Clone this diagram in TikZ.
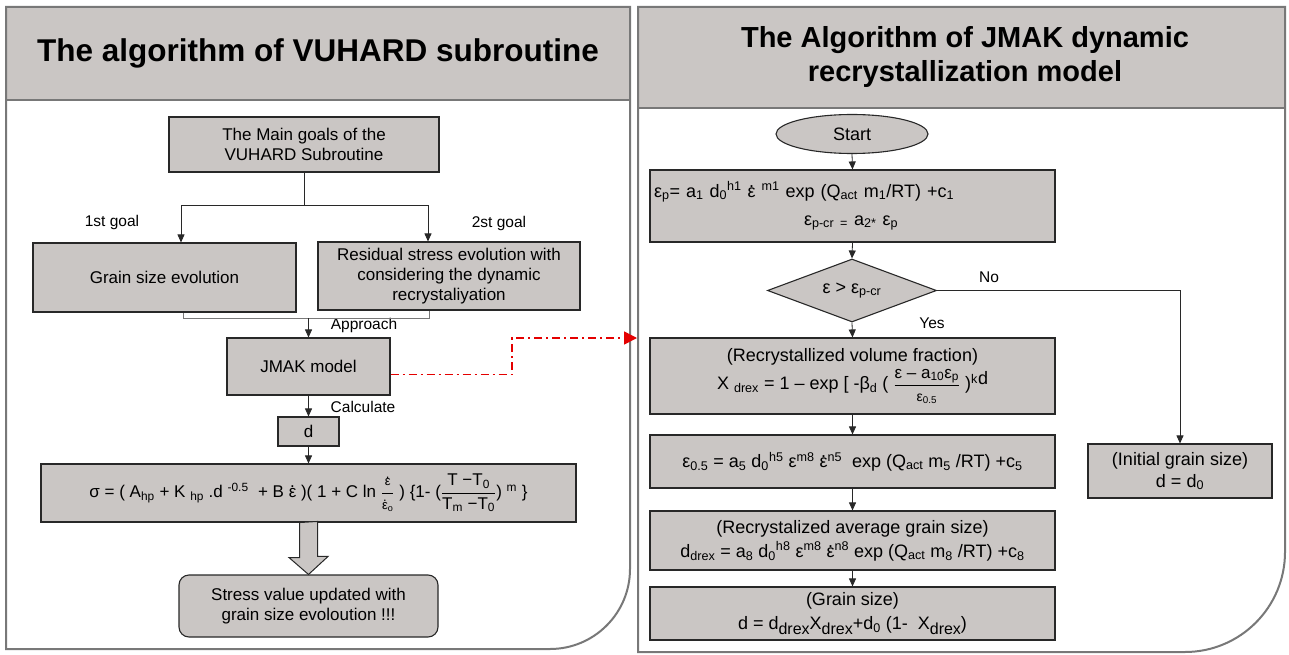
\documentclass[tikz,border=0pt]{standalone}
\usepackage{fontspec}
\usepackage{amsmath}
\setmainfont{Liberation Sans}
\usetikzlibrary{arrows.meta,calc,positioning,shapes.geometric}
\definecolor{fwGray}{RGB}{202,198,196}
\definecolor{fwFrame}{RGB}{120,120,120}
\definecolor{fwInk}{RGB}{40,40,40}
\definecolor{fwRed}{RGB}{228,0,0}
\newcommand{\lo}[1]{\textsubscript{#1}}
\newcommand{\hi}[1]{\textsuperscript{#1}}
\newcommand{\bigsub}[1]{\raisebox{-.3em}{\fontsize{16}{16}\selectfont #1}}
\newcommand{\sized}[2]{\text{\fontsize{#1}{#1}\selectfont #2}}
\newcommand{\edot}{\ooalign{ε\cr\hidewidth\raisebox{.56em}{.}\hidewidth\cr}}
\tikzset{
  box/.style={draw=fwInk,fill=fwGray,line width=1.1pt,inner sep=2pt,align=center,
    font=\fontsize{17}{20}\selectfont},
  rbox/.style={box,minimum width=405pt,font=\fontsize{18}{24}\selectfont},
  lbl/.style={inner sep=0pt,font=\fontsize{15.5}{18}\selectfont},
  arr/.style={draw=fwInk,line width=0.8pt,-{Triangle[length=8pt,width=7pt]}},
  frame/.style={draw=fwFrame,line width=2pt},
}

\begin{document}
\begin{tikzpicture}[x=1pt,y=-1pt]
  \fill[white] (0,0) rectangle (1289,655);
  \useasboundingbox (0,0) rectangle (1289,655);

  % left panel
  \fill[fwGray] (6,7) rectangle (630,100);
  \draw[frame] (6,100) -- (630,100);
  \draw[frame] (6,7) -- (630,7) -- (630,569) arc (0:90:80) -- (6,649) -- cycle;
  \node[font=\bfseries\fontsize{31.5}{36}\selectfont] (vtitle) at (318,53) {The algorithm of VUHARD subroutine};

  \node[box,minimum width=270pt,minimum height=55pt] (goals) at (304,144.5) {The Main goals of the\\VUHARD Subroutine};
  \node[box,minimum width=263pt,minimum height=69pt] (grain) at (164.5,277.5) {Grain size evolution};
  \node[box,minimum width=262pt,minimum height=68pt] (resid) at (449,276) {Residual stress evolution with\\considering the dynamic\\recrystaliyation};
  \node[box,minimum width=163pt,minimum height=57pt] (jmak) at (308.5,366.5) {JMAK model};
  \node[box,minimum width=61pt,minimum height=29pt] (dval) at (308.5,431.5) {d};
  \node[box,minimum width=535pt,minimum height=58pt] (sigma) at (308.5,493)
    {σ = ( A\lo{hp} + K \lo{hp} .d \hi{-0.5}\ \ + B \edot\ )( 1 + C ln $\dfrac{\sized{13}{\edot}}{\sized{13}{\edot\lo{o}}}$ ) \{1- ($\dfrac{\sized{17}{T −T\lo{0}}}{\sized{17}{T\lo{m} −T\lo{0}}}$) \hi{m} \}};
  \node[box,rounded corners=10pt,minimum width=259pt,minimum height=62pt] (stress) at (308.5,606) {Stress value updated with\\grain size evoloution !!!};

  \node[lbl] (goal1) at (112,222) {1st goal};
  \node[lbl] (goal2) at (499,223) {2st goal};
  \node[lbl] (appr) at (364,325) {Approach};
  \node[lbl] (calc) at (363,407) {Calculate};

  \coordinate (split) at (304,205);
  \coordinate (goalA) at (181,205);
  \coordinate (goalB) at (428,205);
  \draw[draw=fwInk,line width=0.8pt] (goals.south) -- (split);
  \draw[arr] (split) -- (goalA) -- (goalA |- grain.north);
  \draw[arr] (split) -- (goalB) -- (goalB |- resid.north);

  \coordinate (mergeA) at (183,318);
  \coordinate (mergeB) at (429,318);
  \draw[fwFrame,line width=0.8pt] (mergeA |- grain.south) -- (mergeA) -- (mergeB) -- (mergeB |- resid.south);
  \draw[arr] (mergeA -| jmak.north) -- (jmak.north);
  \draw[arr] (jmak.south) -- (dval.north);
  \draw[arr] (dval.south) -- (sigma.north);

  % hollow arrow to the result
  \draw[fwInk,fill=fwGray,line width=1pt] ($(sigma.south)+(-9,0)$) -- ++(0,35) -- ++(-10.5,0)
    -- (stress.north) -- ++(19.5,-18) -- ++(-10.5,0) -- ++(0,-35) -- cycle;

  % link to the JMAK algorithm
  \coordinate (rbend) at (512,338);
  \coordinate (rtip) at (637,338);
  \draw[fwRed,line width=1.5pt,dash pattern=on 8pt off 4pt on 2pt off 4pt,
    -{Triangle[length=13pt,width=13pt]}] ($(jmak.east)+(0,8)$) -| (rbend) -- (rtip);

  % right panel
  \fill[fwGray] (638,7) rectangle (1285,108);
  \draw[frame] (638,108) -- (1285,108);
  \draw[frame] (638,7) -- (1285,7) -- (1285,552) arc (0:90:100) -- (638,652) -- cycle;
  \node[font=\bfseries\fontsize{29}{34}\selectfont,align=center] (jtitle) at (965,57) {The Algorithm of JMAK dynamic\\recrystallization model};

  \node[draw=fwInk,fill=fwGray,line width=1.1pt,ellipse,minimum width=152pt,minimum height=39pt,
    font=\fontsize{18}{20}\selectfont] (start) at (852,134) {Start};
  \node[rbox,minimum height=72pt,text width=397pt,align=left,font=\fontsize{18}{28}\selectfont] (peak) at (852.5,206)
    {ε\lo{p}= a\lo{1} d\lo{0}\hi{h1} \edot\hi{ m1} exp (Q\lo{act} m\lo{1}/RT) +c\lo{1}\\
     \hspace*{150pt}ε\lo{p-cr} \lo{=} a\lo{2*} ε\lo{p}};
  \node[draw=fwInk,fill=fwGray,line width=1.1pt,diamond,aspect=2.68,inner sep=0pt,
    minimum width=169pt,minimum height=63pt,font=\fontsize{18}{20}\selectfont] (test) at (852,290.5) {ε > ε\lo{p-cr}};
  \node[rbox,minimum height=76pt] (xfrac) at (852.5,376)
    {(Recrystallized volume fraction)\\[3pt]
     X \lo{drex} = 1 – exp [ -β\lo{d} ( $\dfrac{\sized{17}{ε – a\lo{10}ε\lo{p}}}{\sized{14}{ε\lo{0.5}}}$ )\hi{k}\raisebox{.3em}{d}};
  \node[rbox,minimum height=53pt] (half) at (852.5,461.5)
    {ε\lo{0.5} = a\lo{5} d\lo{0}\hi{h5} ε\hi{m8} \edot\hi{n5}\ \ exp (Q\lo{act} m\lo{5} /RT) +c\lo{5}};
  \node[rbox,minimum height=59pt] (drex) at (852.5,540.5)
    {(Recrystalized average grain size)\\
     d\lo{drex} = a\lo{8} d\lo{0}\hi{h8} ε\hi{m8} \edot\hi{n8} exp (Q\lo{act} m\lo{8} /RT) +c\lo{8}};
  \node[rbox,minimum height=53pt] (gsize) at (852.5,613.5)
    {(Grain size)\\ d = d\bigsub{drex}X\bigsub{drex}+d\lo{0} (1-\ \ X\bigsub{drex})};
  \node[box,minimum width=184pt,minimum height=54pt,font=\fontsize{18}{22}\selectfont] (init) at (1180,471)
    {(Initial grain size)\\d = d\lo{0}};

  \node[lbl] (nolbl) at (989,277) {No};
  \node[lbl] (yeslbl) at (932,323) {Yes};

  \draw[arr] (start.south) -- (peak.north);
  \draw[arr] (peak.south) -- (test.north);
  \draw[arr] (test.south) -- (xfrac.north);
  \draw[arr] (xfrac.south) -- (half.north);
  \draw[arr] (half.south) -- (drex.north);
  \draw[arr] (drex.south) -- (gsize.north);
  \draw[arr] (test.east) -| (init.north);
\end{tikzpicture}
\end{document}
